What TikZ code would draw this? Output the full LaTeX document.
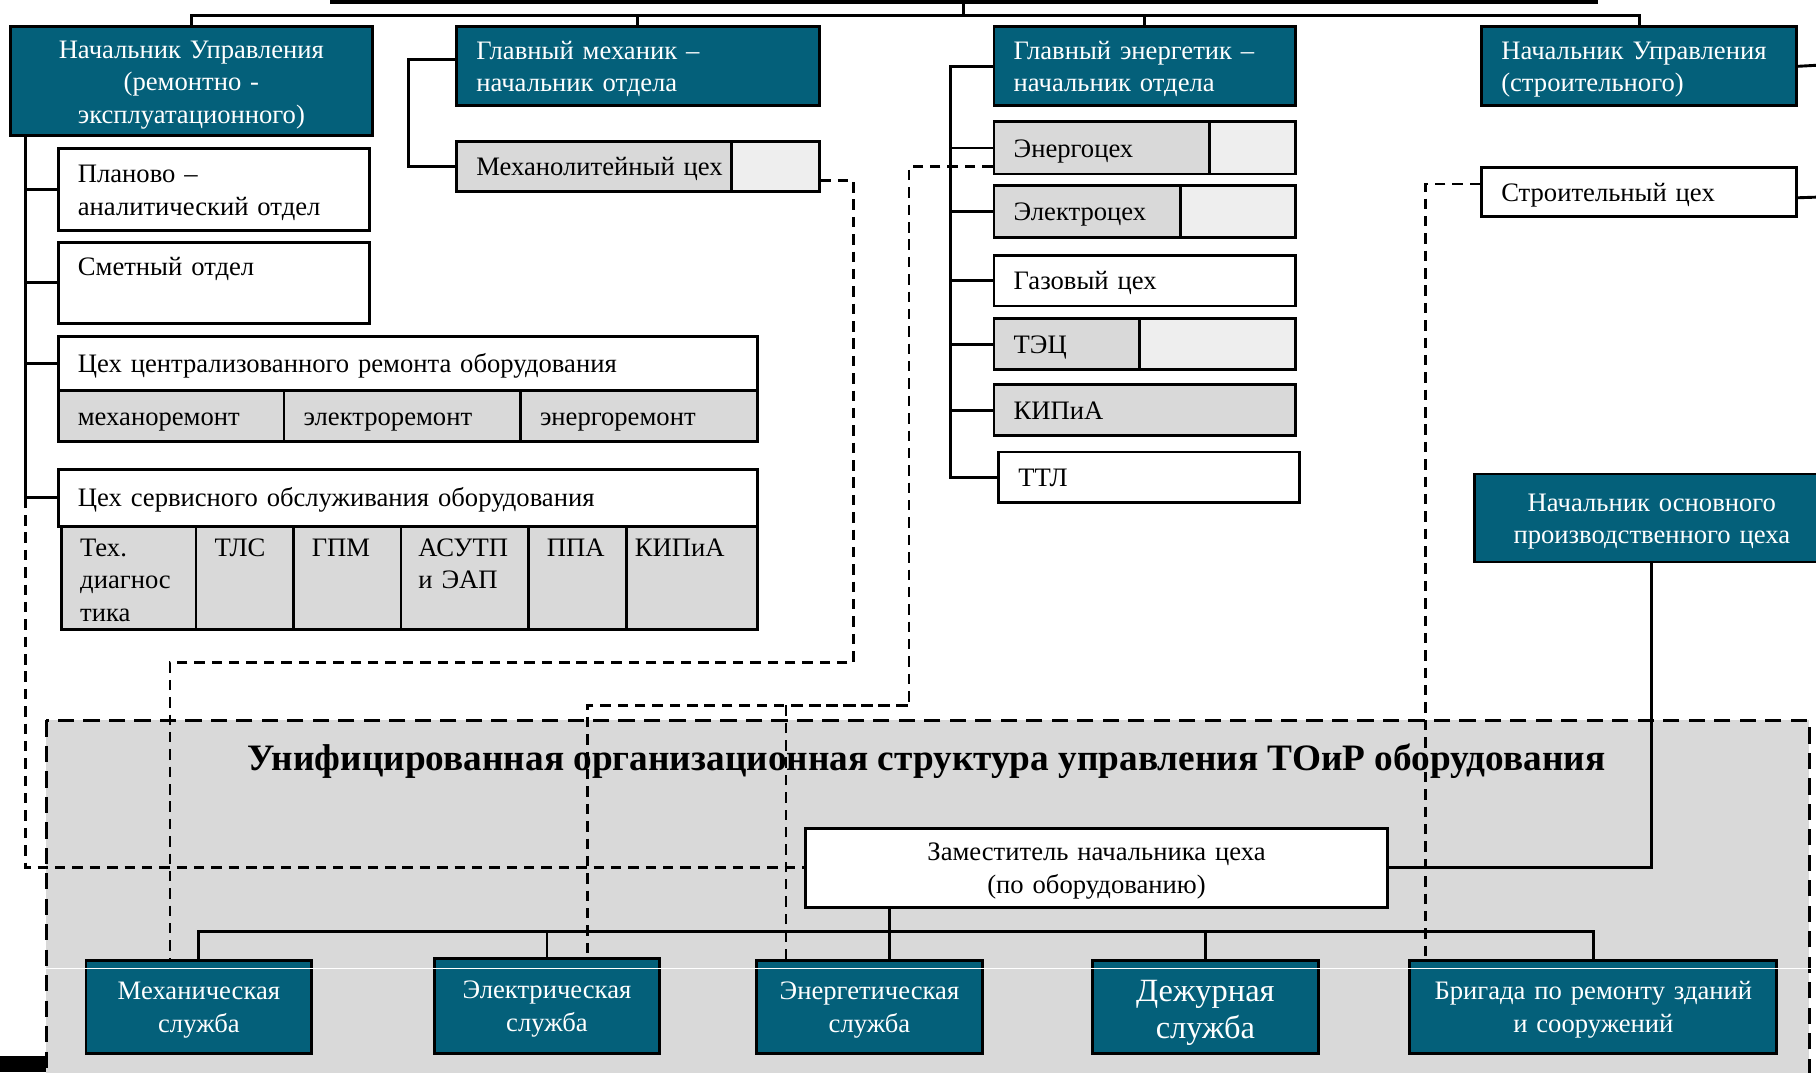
\documentclass[tikz,border=0pt]{standalone}
\usepackage{fontspec}
\setmainfont{Liberation Serif}
\usepackage{tikz}
\usetikzlibrary{positioning, calc}
\definecolor{toirteal}{RGB}{4,96,122}
\definecolor{toirgray}{RGB}{217,217,217}
\definecolor{hatchgray}{RGB}{238,238,238}
\newcommand{\orgfont}{\fontsize{23}{28}\selectfont}
\newcommand{\dutyfont}{\fontsize{28}{32}\selectfont}
\newcommand{\titlefont}{\fontsize{32.2}{38}\selectfont\bfseries}
\newcommand{\topstrut}{\rule{0pt}{22.5pt}}
\newcommand{\botstrut}{\rule[-6.5pt]{0pt}{0pt}}
\tikzstyle{tealbox}=[rectangle,draw=black,line width=2.5pt,fill=toirteal,
text=white,anchor=north west,inner sep=0pt,font=\orgfont,
execute at begin node=\topstrut,execute at end node=\botstrut]
\tikzstyle{whitebox}=[rectangle,draw=black,line width=2.5pt,fill=white,
anchor=north west,inner sep=0pt,font=\orgfont,
execute at begin node=\topstrut,execute at end node=\botstrut]
\tikzstyle{graybox}=[whitebox,fill=toirgray]
\tikzstyle{hatchbox}=[whitebox,fill=hatchgray]
\tikzstyle{cellbox}=[graybox,minimum height=89pt,inner xsep=16pt,align=left,
execute at begin node=\rule{0pt}{26pt},execute at end node=]
\tikzstyle{conn}=[line width=2.5pt]
\tikzstyle{dline}=[line width=2.2pt,dash pattern=on 9pt off 6pt]
\tikzstyle{region}=[fill=toirgray,line width=2.5pt,dash pattern=on 14pt off 8pt]

\begin{document}
\begin{tikzpicture}[x=1pt,y=-1pt]
    \clip (0,0) rectangle (1568,926);
    \fill[white] (0,0) rectangle (1568,926);

    % unified structure block
    \draw[region] (40,622) rectangle (1562,960);
    \node[font=\titlefont] (title) at (800,657) {Унифицированная организационная структура управления ТОиР оборудования};
    \fill[black] (0,912) rectangle (40,926);

    % top level
    \node[tealbox, minimum width=312pt, minimum height=94pt, text width=290pt, align=center] (nuRem) at (8,22) {Начальник Управления\\(ремонтно -\\эксплуатационного)};
    \node[tealbox, minimum height=68pt, text width=279pt, inner xsep=17pt, align=left] (glMech) at (393,22) {Главный механик –\\начальник отдела};
    \node[tealbox, minimum height=68pt, text width=226pt, inner xsep=17pt, align=left] (glEn) at (857,22) {Главный энергетик –\\начальник отдела};
    \node[tealbox, minimum height=68pt, text width=238pt, inner xsep=17pt, align=left] (nuStr) at (1278,22) {Начальник Управления\\(строительного)};

    % repair management
    \node[whitebox, minimum height=71pt, text width=235pt, inner xsep=17pt, align=left] (plan) at (49,127) {Планово –\\аналитический отдел};
    \node[whitebox, minimum height=70pt, text width=235pt, inner xsep=17pt, align=left] (smet) at (49,208) {Сметный отдел\\~};
    \node[whitebox, minimum height=47pt, text width=570pt, inner xsep=17pt, align=left] (crr) at (49,289) {Цех централизованного ремонта оборудования};
    \node[graybox, minimum height=44pt, text width=161pt, inner xsep=17pt, align=left] (crrMech) at (49,336) {механоремонт};
    \node[graybox, minimum height=44pt, text width=170pt, inner xsep=17pt, align=left] (crrEl) at (244,336) {электроремонт};
    \node[graybox, minimum height=44pt, text width=171pt, inner xsep=17pt, align=left] (crrEn) at (448,336) {энергоремонт};
    \node[whitebox, minimum height=49pt, text width=570pt, inner xsep=17pt, align=left] (cso) at (49,404) {Цех сервисного обслуживания оборудования};
    \node[cellbox, text width=84pt] (csoTd) at (52,453) {Тех.\\диагнос\\тика};
    \node[cellbox, text width=52pt] (csoTls) at (168,453) {ТЛС\\~\\~};
    \node[cellbox, text width=61pt] (csoGpm) at (252,453) {ГПМ\\~\\~};
    \node[cellbox, text width=80pt, inner xsep=15pt] (csoAsu) at (345,453) {АСУТП\\и ЭАП\\~};
    \node[cellbox, text width=53pt] (csoPpa) at (455,453) {ППА\\~\\~};
    \node[cellbox, text width=99pt, inner xsep=7pt] (csoKip) at (540,453) {КИПиА\\~\\~};

    % mechanic
    \node[graybox, minimum height=43pt, text width=203pt, inner xsep=17pt, align=left] (mlc) at (393,121) {\mbox{Механолитейный цех}};
    \node[hatchbox, minimum width=76pt, minimum height=43pt] (mlcX) at (630,121) {};

    % energy
    \node[graybox, minimum height=45pt, text width=152pt, inner xsep=17pt, align=left] (enC) at (857,104) {Энергоцех};
    \node[hatchbox, minimum width=74pt, minimum height=45pt] (enCX) at (1043,104) {};
    \node[graybox, minimum height=45pt, text width=127pt, inner xsep=17pt, align=left] (elC) at (857,159) {Электроцех};
    \node[hatchbox, minimum width=99pt, minimum height=45pt] (elCX) at (1018,159) {};
    \node[whitebox, minimum height=44pt, text width=226pt, inner xsep=17pt, align=left] (gasC) at (857,219) {Газовый цех};
    \node[graybox, minimum height=44pt, text width=92pt, inner xsep=17pt, align=left] (tec) at (857,274) {ТЭЦ};
    \node[hatchbox, minimum width=134pt, minimum height=44pt] (tecX) at (983,274) {};
    \node[graybox, minimum height=44pt, text width=226pt, inner xsep=17pt, align=left] (kip) at (857,331) {КИПиА};
    \node[whitebox, minimum height=44pt, text width=226pt, inner xsep=17pt, align=left] (ttl) at (861,389) {ТТЛ};

    % construction
    \node[whitebox, minimum height=43pt, text width=238pt, inner xsep=17pt, align=left] (stroy) at (1278,143) {Строительный цех};

    % shop
    \node[tealbox, minimum width=306pt, minimum height=76pt, text width=290pt, align=center] (nop) at (1272,408) {Начальник основного\\производственного цеха};
    \node[whitebox, minimum width=503pt, minimum height=68pt, text width=480pt, align=center] (zam) at (694,714) {Заместитель начальника цеха\\(по оборудованию)};
    \node[tealbox, minimum width=195pt, minimum height=80pt, text width=180pt, align=center] (mechS) at (73,828) {Механическая\\служба};
    \node[tealbox, minimum width=194pt, minimum height=82pt, text width=180pt, align=center] (elS) at (374,826) {Электрическая\\служба};
    \node[tealbox, minimum width=195pt, minimum height=80pt, text width=180pt, align=center] (enS) at (652,828) {Энергетическая\\служба};
    \node[tealbox, minimum width=195pt, minimum height=80pt, text width=180pt, align=center, font=\dutyfont, execute at begin node=\rule{0pt}{29pt}] (dutyS) at (942,828) {Дежурная\\служба};
    \node[tealbox, minimum width=317pt, minimum height=80pt, text width=300pt, align=center] (brigS) at (1216,828) {Бригада по ремонту зданий\\и сооружений};

    \coordinate (topL) at (285,1);
    \coordinate (topR) at (1380,1);
    \coordinate (hub) at (832,13);
    \coordinate (spRem) at ([xshift=14pt]nuRem.south west);
    \coordinate (spEn) at ([xshift=-36pt]glEn.west);
    \coordinate (outD) at (1575,56);
    \coordinate (outS) at (1575,170);
    \coordinate (busZ) at (768,804);
    \coordinate (dMech) at (737,572);
    \coordinate (dEn) at (785,609);

    % solid links
    \draw[line width=4.5pt] (topL) -- (topR);
    \draw[conn] (hub |- topL) -- (hub);
    \draw[conn] (nuRem.north) |- (hub) -| (nuStr.north);
    \path[conn]
    (glMech.north) edge (glMech.north |- hub)
    (glEn.north) edge (glEn.north |- hub);
    \draw[conn] (spRem) |- (cso.west);
    \path[conn]
    (spRem |- plan.west) edge (plan.west)
    (spRem |- smet.west) edge (smet.west)
    (spRem |- crr.west) edge (crr.west);
    \draw[conn] ([yshift=6pt]glMech.west) -- ++(-40,0) |- (mlc.west);
    \draw[conn] (glEn.west) -- (spEn) |- (ttl.west);
    \path[conn]
    (spEn |- enC.west) edge (enC.west)
    (spEn |- elC.west) edge (elC.west)
    (spEn |- gasC.west) edge (gasC.west)
    (spEn |- tec.west) edge (tec.west)
    (spEn |- kip.west) edge (kip.west);
    \draw[conn] (nuStr.east) -- (outD);
    \draw[conn] ([yshift=-5pt]stroy.east) -- (outS);
    \draw[conn] (nop.south) |- (zam.east);
    \draw[conn] (zam.south -| busZ) -- (busZ |- enS.north);
    \draw[conn] (mechS.north) |- (busZ) -| (brigS.north);
    \path[conn]
    (elS.north) edge (elS.north |- busZ)
    (dutyS.north) edge (dutyS.north |- busZ);

    % dashed links
    \draw[dline] ([yshift=-12pt]mlcX.east) -| (dMech) -| ([xshift=-25pt]mechS.north);
    \draw[dline] ([yshift=-16pt]enC.west) -| (dEn) -| ([xshift=35pt]elS.north);
    \draw[dline] ([xshift=-72pt]enS.north) |- (dEn);
    \draw[dline] ([yshift=7pt]stroy.west) -| ([xshift=-145pt]brigS.north);
    \draw[dline] (spRem |- cso.west) |- (zam.west);

    \draw[white, line width=1.2pt] (40,836) -- (1568,836);
\end{tikzpicture}
\end{document}
